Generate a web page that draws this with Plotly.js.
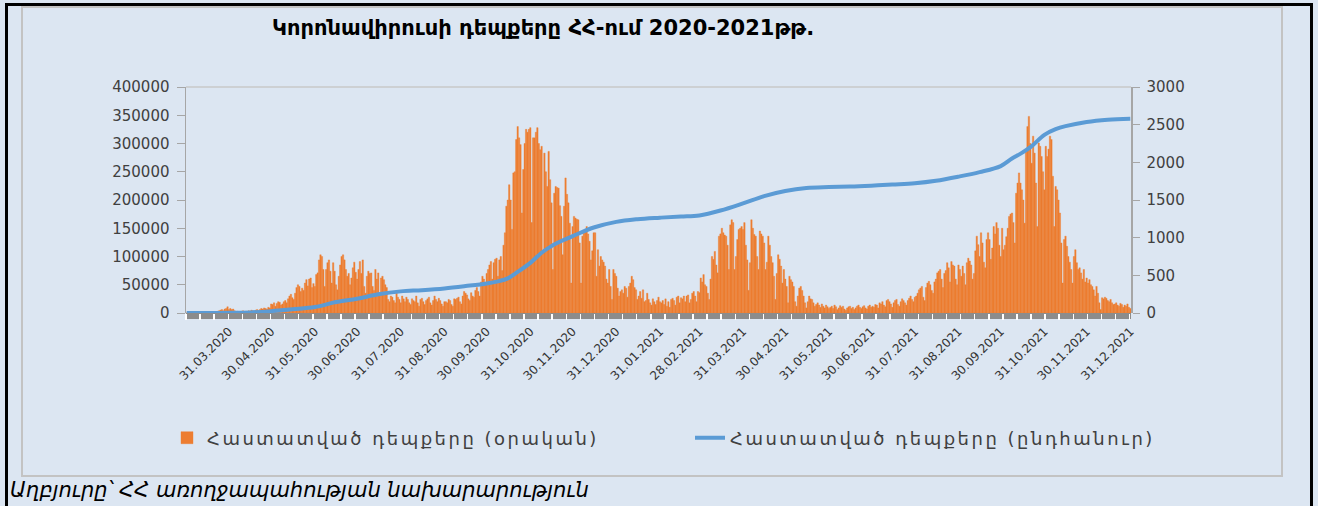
<!DOCTYPE html>
<html>
<head>
<meta charset="utf-8">
<script src="https://cdn.plot.ly/plotly-3.0.1.min.js"></script>
<style>
    body { margin: 0; background: #dce6f2; }
    #wrap { position: relative; width: 1318px; height: 506px; background: #dce6f2; overflow: hidden; }
    #graph { position: absolute; left: 0; top: 0; width: 1318px; height: 506px; }
    .frame { position: absolute; pointer-events: none; }
    .legendtext { letter-spacing: 2.5px; }
</style>
</head>
<body>
<div id="wrap">
    <div class="frame" style="left:21px;top:6px;width:1258px;height:467px;border:2px solid #c3c3c3;"></div>
    <div class="frame" style="left:5px;top:3px;width:1308px;height:3px;background:#000;"></div>
    <div class="frame" style="left:5px;top:3px;width:3px;height:503px;background:#000;"></div>
    <div class="frame" style="left:1310px;top:3px;width:3px;height:503px;background:#000;"></div>
    <div id="graph"></div>
</div>
<script>
// daily confirmed cases, thousands, one array per month (from 01.03.2020)
const mar20 = [0,0,0,0,0,0,0,0,0,0,0,0,0,0,1,1,1,1,1,2,1,2,3,4,5,6,4,7,8,11,6];
const apr20 = [8,6,7,4,2,3,2,1,3,4,2,3,2,4,3,5,4,3,5,6,4,6,8,7,9,8,7,10,9,16];
const may20 = [15,18,12,17,20,19,14,16,20,22,18,25,30,33,27,24,35,45,50,47,38,44,40,53,59,48,60,62,45,52,47];
const jun20 = [68,71,94,103,100,77,47,77,89,94,74,53,89,74,50,41,65,85,100,103,94,77,65,70,50,62,80,90,72,60];
const jul20 = [77,91,70,94,47,35,65,74,70,71,47,40,77,60,71,30,62,65,59,50,45,24,20,30,28,22,18,35,28,24,18];
const aug20 = [30,25,20,28,24,18,15,25,22,20,30,18,12,24,26,20,15,22,25,28,18,14,22,30,24,20,26,22,16,12,20];
const sep20 = [20,18,24,22,15,12,25,24,26,28,20,16,30,38,35,32,25,22,36,30,28,40,45,38,30,55,65,60,50,70];
const oct20 = [77,85,91,60,89,95,97,65,94,100,75,120,142,189,200,227,200,148,248,250,307,330,310,298,177,254,300,325,320,325,328];
const nov20 = [160,310,310,320,328,300,289,295,109,283,250,224,286,236,195,77,212,224,222,221,190,171,103,189,239,210,195,159,53,153];
const dec20 = [171,168,166,165,124,53,136,145,148,153,140,127,94,110,142,142,65,112,83,100,94,90,83,60,53,77,47,24,77,70,65];
const jan21 = [44,30,38,41,35,47,44,28,47,53,65,59,45,41,24,30,38,26,41,20,22,35,24,18,14,25,20,15,22,28,20];
const feb21 = [18,22,15,25,12,20,10,24,26,22,14,28,30,18,27,25,30,20,30,32,18,24,35,38,30,20,38,36];
const mar21 = [62,55,68,50,47,35,24,60,100,95,109,85,71,136,140,150,142,138,136,120,77,156,165,160,77,100,130,148,150,153,148];
const apr21 = [160,120,94,40,89,165,150,139,136,100,77,145,140,136,124,77,90,136,120,100,89,65,24,70,103,95,83,53,77,60];
const may21 = [47,18,65,59,55,47,20,12,30,44,47,40,30,18,9,20,30,25,24,18,12,15,18,14,10,16,12,9,14,11,8];
const jun21 = [10,12,8,14,11,6,9,13,10,12,7,5,9,11,12,8,10,6,9,12,14,10,8,11,13,9,7,12,14,10];
const jul21 = [12,10,15,14,9,18,16,20,14,11,22,24,20,16,10,18,22,24,15,12,20,25,22,18,14,22,26,30,24,20,28];
const aug21 = [30,35,41,44,47,28,22,45,53,56,50,40,35,55,60,71,74,77,60,45,70,75,89,80,55,91,85,83,60,50,85];
const sep21 = [77,65,83,70,50,89,97,92,85,60,70,110,136,121,100,142,124,90,80,130,142,130,95,115,153,140,160,150,120,100];
const oct21 = [150,112,120,135,150,171,175,177,160,124,212,230,248,230,218,200,159,289,330,348,300,265,313,283,230,153,301,295,277,250,218];
const nov21 = [295,277,290,313,307,242,153,224,218,200,177,124,53,130,136,118,100,90,77,53,100,112,89,77,80,71,60,77,55,62];
const dec21 = [53,59,50,47,41,30,47,35,18,6,27,25,28,26,22,20,24,18,15,16,18,14,12,17,15,10,14,12,16,10,8];

// cumulative line (right axis)
const cumDates = ['2020-03-01', '2020-03-15', '2020-03-31', '2020-04-15', '2020-04-30', '2020-05-15', '2020-05-31',
    '2020-06-15', '2020-06-30', '2020-07-15', '2020-07-31', '2020-08-15', '2020-08-31', '2020-09-15', '2020-09-30',
    '2020-10-08', '2020-10-15', '2020-10-22', '2020-10-31', '2020-11-08', '2020-11-15', '2020-11-22', '2020-11-30',
    '2020-12-15', '2020-12-31', '2021-01-15', '2021-01-31', '2021-02-15', '2021-02-28', '2021-03-15', '2021-03-31',
    '2021-04-15', '2021-04-30', '2021-05-15', '2021-05-31', '2021-06-15', '2021-06-30', '2021-07-15', '2021-07-31',
    '2021-08-15', '2021-08-31', '2021-09-15', '2021-09-30', '2021-10-08', '2021-10-15', '2021-10-22', '2021-10-31',
    '2021-11-08', '2021-11-15', '2021-11-30', '2021-12-15', '2021-12-31'];
const cumValues = [0, 0, 2, 8, 25, 50, 80,
    145, 190, 248, 287, 303, 326, 357, 392,
    420, 460, 545, 665, 800, 888, 955, 1020,
    1135, 1210, 1245, 1265, 1280, 1295, 1360, 1455,
    1552, 1620, 1660, 1672, 1678, 1690, 1705, 1722,
    1755, 1810, 1870, 1950, 2050, 2125, 2215, 2365,
    2440, 2480, 2535, 2565, 2580];

const tickDates = ['2020-03-31', '2020-04-30', '2020-05-31', '2020-06-30', '2020-07-31', '2020-08-31', '2020-09-30',
    '2020-10-31', '2020-11-30', '2020-12-31', '2021-01-31', '2021-02-28', '2021-03-31', '2021-04-30', '2021-05-31',
    '2021-06-30', '2021-07-31', '2021-08-31', '2021-09-30', '2021-10-31', '2021-11-30', '2021-12-31'];

const months = [mar20, apr20, may20, jun20, jul20, aug20, sep20, oct20, nov20, dec20,
    jan21, feb21, mar21, apr21, may21, jun21, jul21, aug21, sep21, oct21, nov21, dec21];

let days = [];
let daily = [];
let day = new Date(Date.UTC(2020, 2, 1));
months.forEach(function (m) {
    m.forEach(function (v) {
        days.push(day.toISOString().slice(0, 10));
        daily.push(v * 1000);
        day.setUTCDate(day.getUTCDate() + 1);
    });
});

let per_day = {
    type: 'bar',
    x: days,
    y: daily,
    name: 'Հաստատված դեպքերը (օրական)',
    marker: {color: '#ed7d31', line: {color: '#ed7d31', width: 0.4}},
    hoverinfo: 'skip',
};

let total = {
    type: 'scatter',
    mode: 'lines',
    x: cumDates,
    y: cumValues,
    yaxis: 'y2',
    name: 'Հաստատված դեպքերը (ընդհանուր)',
    line: {color: '#5b9bd5', width: 4, shape: 'spline', smoothing: 1},
    hoverinfo: 'skip',
};

const plotH = 226;
let layout = {
    width: 1318,
    height: 506,
    margin: {l: 186, r: 187, t: 87, b: 193},
    paper_bgcolor: 'rgba(0,0,0,0)',
    plot_bgcolor: 'rgba(0,0,0,0)',
    font: {family: 'DejaVu Sans, sans-serif', color: '#404040'},
    title: {
        text: 'Կորոնավիրուսի դեպքերը ՀՀ-ում 2020-2021թթ.',
        font: {size: 21, color: '#000000', weight: 'bold'},
        xref: 'container', x: 272 / 1318, xanchor: 'left',
        yref: 'container', y: 1 - 28 / 506, yanchor: 'middle',
    },
    bargap: 0.02,
    showlegend: true,
    legend: {
        orientation: 'h',
        x: (167 - 186) / 945, xanchor: 'left',
        y: (313 - 438) / plotH, yanchor: 'middle',
        font: {size: 18, color: '#404040'},
        entrywidth: 478,
        bgcolor: 'rgba(0,0,0,0)',
    },
    xaxis: {
        type: 'date',
        range: ['2020-02-29 12:00', '2021-12-31 12:00'],
        tickmode: 'array',
        tickvals: tickDates,
        tickformat: '%d.%m.%Y',
        tickangle: -45,
        ticks: '',
        ticklabelstandoff: 8,
        tickfont: {size: 12, color: '#333333'},
        showgrid: false,
        zeroline: false,
        showline: false,
        fixedrange: true,
        minor: {
            tickmode: 'linear',
            tick0: '2020-02-29 12:00',
            dtick: 10 * 24 * 60 * 60 * 1000,
            ticks: 'outside',
            ticklen: 6,
            tickwidth: 1.5,
            tickcolor: '#ffffff',
            showgrid: false,
        },
    },
    yaxis: {
        range: [0, 400000],
        tick0: 0,
        dtick: 50000,
        tickformat: 'd',
        showgrid: false,
        zeroline: false,
        showline: true,
        linecolor: '#a6a6a6',
        linewidth: 1.5,
        ticks: 'outside',
        ticklen: 8,
        tickcolor: '#a6a6a6',
        ticklabelstandoff: 4,
        tickfont: {size: 15, color: '#404040'},
        fixedrange: true,
    },
    yaxis2: {
        overlaying: 'y',
        side: 'right',
        range: [0, 3000],
        tick0: 0,
        dtick: 500,
        tickformat: 'd',
        showgrid: false,
        zeroline: false,
        showline: true,
        linecolor: '#a6a6a6',
        linewidth: 1.5,
        ticks: 'outside',
        ticklen: 7,
        tickcolor: '#a6a6a6',
        ticklabelstandoff: 4,
        tickfont: {size: 15, color: '#404040'},
        fixedrange: true,
    },
    shapes: [
        {type: 'rect', xref: 'paper', yref: 'paper', x0: 0, x1: 1, y0: -6 / plotH, y1: 0,
            fillcolor: '#8c8c8c', line: {width: 0}, layer: 'below'},
        {type: 'line', xref: 'paper', yref: 'paper', x0: 0, x1: 1, y0: 1, y1: 1,
            line: {color: '#c8c8c8', width: 1.5}},
    ],
    annotations: [{
        text: '<i>Աղբյուրը՝ ՀՀ առողջապահության նախարարություն</i>',
        xref: 'paper', yref: 'paper',
        x: (8 - 186) / 945, xanchor: 'left',
        y: (313 - 490) / plotH, yanchor: 'middle',
        showarrow: false,
        font: {size: 21, color: '#000000'},
    }],
};

let config = {displayModeBar: false, staticPlot: true};
Plotly.newPlot('graph', [per_day, total], layout, config);
</script>
</body>
</html>
